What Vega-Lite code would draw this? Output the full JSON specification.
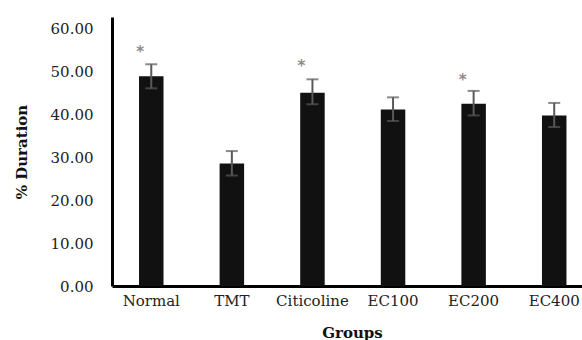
{
  "$schema": "https://vega.github.io/schema/vega-lite/v6.json",
  "autosize": {"type": "none"},
  "padding": {"left": 112, "top": 17, "right": 0, "bottom": 54},
  "width": 470,
  "height": 269,
  "background": "white",
  "config": {"view": {"stroke": null}, "font": "DejaVu Serif"},
  "data": {"values": [
    {"group": "Normal", "mean": 48.8, "lo": 46.0, "hi": 51.6, "sig": "*", "starY": 55.3},
    {"group": "TMT", "mean": 28.5, "lo": 25.7, "hi": 31.4, "sig": "", "starY": null},
    {"group": "Citicoline", "mean": 45.0, "lo": 42.3, "hi": 48.1, "sig": "*", "starY": 52.1},
    {"group": "EC100", "mean": 41.1, "lo": 38.4, "hi": 43.9, "sig": "", "starY": null},
    {"group": "EC200", "mean": 42.4, "lo": 39.7, "hi": 45.4, "sig": "*", "starY": 48.8},
    {"group": "EC400", "mean": 39.7, "lo": 37.0, "hi": 42.6, "sig": "", "starY": null}
  ]},
  "encoding": {
    "x": {
      "field": "group", "type": "nominal", "sort": null,
      "scale": {"paddingInner": 0.696, "paddingOuter": 0.264, "align": 0.635},
      "axis": {
        "title": "Groups", "labelAngle": 0, "ticks": false,
        "domainColor": "black", "domainWidth": 3,
        "labelFont": "DejaVu Serif", "labelFontSize": 15, "labelColor": "#222",
        "labelPadding": 7,
        "titleFont": "DejaVu Serif", "titleFontSize": 15, "titleFontWeight": "bold",
        "titleColor": "#111", "titlePadding": 17, "titleX": 240
      }
    }
  },
  "layer": [
    {
      "mark": {"type": "bar", "color": "#111111"},
      "encoding": {
        "y": {
          "field": "mean", "type": "quantitative",
          "scale": {"domain": [0, 62.6], "nice": false},
          "axis": {
            "title": "% Duration", "values": [0, 10, 20, 30, 40, 50, 60],
            "format": ".2f", "grid": false, "ticks": false,
            "domainColor": "black", "domainWidth": 3,
            "labelFont": "DejaVu Serif", "labelFontSize": 15, "labelColor": "#222",
            "labelPadding": 19,
            "titleFont": "DejaVu Serif", "titleFontSize": 15, "titleFontWeight": "bold",
            "titleColor": "#111", "titlePadding": 21
          }
        }
      }
    },
    {
      "mark": {"type": "rule", "color": "#595959", "strokeWidth": 2},
      "encoding": {
        "y": {"field": "lo", "type": "quantitative"},
        "y2": {"field": "hi"}
      }
    },
    {
      "mark": {"type": "tick", "color": "#595959", "size": 12, "thickness": 2},
      "encoding": {"y": {"field": "lo", "type": "quantitative"}}
    },
    {
      "mark": {"type": "tick", "color": "#595959", "size": 12, "thickness": 2},
      "encoding": {"y": {"field": "hi", "type": "quantitative"}}
    },
    {
      "transform": [{"filter": "datum.sig !== ''"}],
      "mark": {"type": "text", "color": "#8c8c8c", "fontSize": 15, "fontWeight": "bold", "font": "DejaVu Sans", "dx": -11, "dy": 9, "baseline": "alphabetic"},
      "encoding": {
        "y": {"field": "starY", "type": "quantitative"},
        "text": {"field": "sig"}
      }
    }
  ]
}
